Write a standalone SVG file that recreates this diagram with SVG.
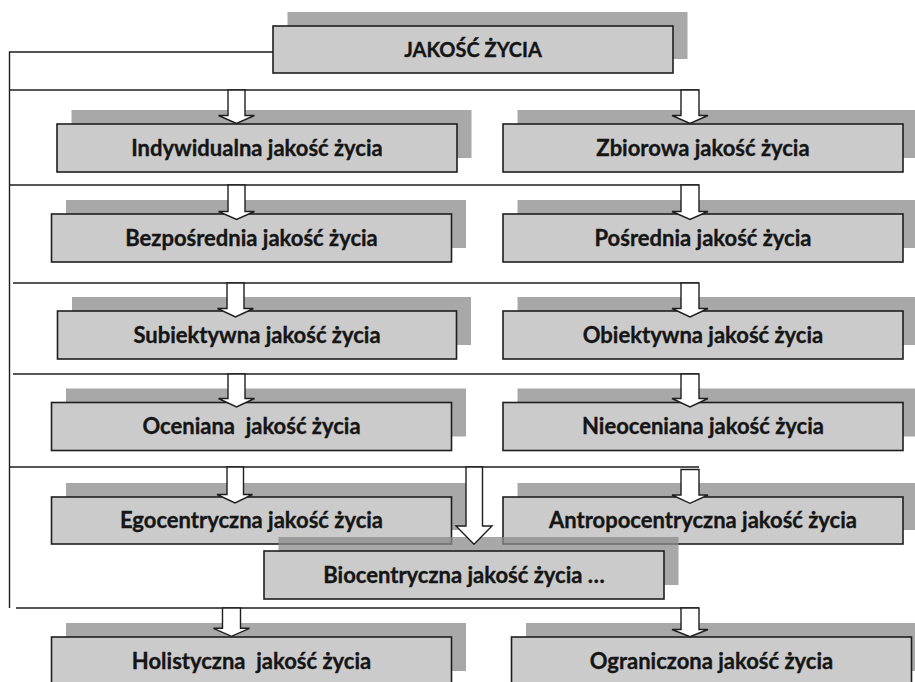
<svg xmlns="http://www.w3.org/2000/svg" width="915" height="682" viewBox="0 0 915 682">
<style>
.sh{fill:#8b8b8b;fill-opacity:0.75}
.bx{fill:#cbcbcb;stroke:#1e1e1e;stroke-width:1.6}
.tx{font-family:Lato,"Liberation Sans",sans-serif;font-weight:bold;font-size:22px;fill:#151515;stroke:#151515;stroke-width:0.35;text-anchor:middle;white-space:pre}
.tt{font-size:20px}
.ln{fill:none;stroke:#1e1e1e;stroke-width:1.4}
.ar{fill:#ffffff;stroke:#1e1e1e;stroke-width:1.4;stroke-linejoin:miter}
</style>
<rect width="915" height="682" fill="#ffffff"/>
<g id="n-top"><rect class="sh" x="287.5" y="12" width="400" height="47"/><rect class="bx" x="273" y="26" width="400" height="47"/><text class="tx tt" x="473" y="56.5">JAKOŚĆ ŻYCIA</text></g>
<g id="n-ind"><rect class="sh" x="71.5" y="110" width="400" height="48"/><rect class="bx" x="57" y="124" width="400" height="48"/><text class="tx" x="257" y="155.5">Indywidualna jakość życia</text></g>
<g id="n-zbi"><rect class="sh" x="517.5" y="110" width="400" height="48"/><rect class="bx" x="503" y="124" width="400" height="48"/><text class="tx" x="703" y="155.5">Zbiorowa jakość życia</text></g>
<g id="n-bez"><rect class="sh" x="66" y="200" width="400" height="48"/><rect class="bx" x="51.5" y="214" width="400" height="48"/><text class="tx" x="251.5" y="245.5">Bezpośrednia jakość życia</text></g>
<g id="n-pos"><rect class="sh" x="517.5" y="200" width="400" height="48"/><rect class="bx" x="503" y="214" width="400" height="48"/><text class="tx" x="703" y="245.5">Pośrednia jakość życia</text></g>
<g id="n-sub"><rect class="sh" x="72" y="297" width="399" height="48"/><rect class="bx" x="57.5" y="311" width="399" height="48"/><text class="tx" x="257" y="342.5">Subiektywna jakość życia</text></g>
<g id="n-obi"><rect class="sh" x="517.5" y="297" width="400" height="48"/><rect class="bx" x="503" y="311" width="400" height="48"/><text class="tx" x="703" y="342.5">Obiektywna jakość życia</text></g>
<g id="n-oce"><rect class="sh" x="66" y="388.5" width="400" height="48"/><rect class="bx" x="51.5" y="402.5" width="400" height="48"/><text class="tx" x="251.5" y="434">Oceniana  jakość życia</text></g>
<g id="n-nie"><rect class="sh" x="517.5" y="388.5" width="400" height="48"/><rect class="bx" x="503" y="402.5" width="400" height="48"/><text class="tx" x="703" y="434">Nieoceniana jakość życia</text></g>
<g id="n-ego"><rect class="sh" x="66" y="483" width="400" height="47"/><rect class="bx" x="51.5" y="497" width="400" height="47"/><text class="tx" x="251.5" y="528">Egocentryczna jakość życia</text></g>
<g id="n-ant"><rect class="sh" x="517.5" y="483" width="400" height="47"/><rect class="bx" x="503" y="497" width="400" height="47"/><text class="tx" x="703" y="528">Antropocentryczna jakość życia</text></g>
<g id="n-bio"><rect class="sh" x="278.5" y="537" width="400" height="48"/><rect class="bx" x="264" y="551" width="400" height="48"/><text class="tx" x="464" y="582.5">Biocentryczna jakość życia …</text></g>
<g id="n-hol"><rect class="sh" x="66" y="623" width="400" height="48"/><rect class="bx" x="51.5" y="637" width="400" height="48"/><text class="tx" x="251.5" y="668.5">Holistyczna  jakość życia</text></g>
<g id="n-ogr"><rect class="sh" x="526" y="623" width="400" height="48"/><rect class="bx" x="511.5" y="637" width="400" height="48"/><text class="tx" x="711.5" y="668.5">Ograniczona jakość życia</text></g>
<g id="connectors">
<path class="ln" d="M273 52H9.5V608"/>
<path class="ln" d="M9.5 90H699"/>
<path class="ln" d="M9.5 185H699"/>
<path class="ln" d="M13 283H699"/>
<path class="ln" d="M13 374H699"/>
<path class="ln" d="M9.5 467H699"/>
<path class="ln" d="M16 608H699"/>
<polygon class="ar" points="228,90 245,90 245,115.5 254.5,115.5 236.5,123.5 218.5,115.5 228,115.5"/>
<polygon class="ar" points="681,90 699,90 699,115.5 708,115.5 690,123.5 672,115.5 681,115.5"/>
<polygon class="ar" points="228,185 245,185 245,211.5 254.5,211.5 236.5,219.5 218.5,211.5 228,211.5"/>
<polygon class="ar" points="681,185 699,185 699,211.5 708,211.5 690,219.5 672,211.5 681,211.5"/>
<polygon class="ar" points="227,283 244,283 244,308.5 253.5,308.5 235.5,317 217.5,308.5 227,308.5"/>
<polygon class="ar" points="681,283 699,283 699,308.5 708,308.5 690,317 672,308.5 681,308.5"/>
<polygon class="ar" points="228,374 245,374 245,398.5 254.5,398.5 236.5,407 218.5,398.5 228,398.5"/>
<polygon class="ar" points="681,374 699,374 699,398.5 708,398.5 690,407 672,398.5 681,398.5"/>
<polygon class="ar" points="227,467 243.5,467 243.5,494.5 252.5,494.5 235,503 217,494.5 227,494.5"/>
<polygon class="ar" points="681,469.5 699,469.5 699,495 708,495 690,503.3 672,495 681,495"/>
<polygon class="ar" points="466,467 482.5,467 482.5,526 492,526 474,544.3 456,526 466,526"/>
<polygon class="ar" points="222.5,608 240.5,608 240.5,628.3 249.5,628.3 231.5,636.3 213.5,628.3 222.5,628.3"/>
<polygon class="ar" points="681,608 699,608 699,629.5 708,629.5 690,636.7 672,629.5 681,629.5"/>
</g>
</svg>
